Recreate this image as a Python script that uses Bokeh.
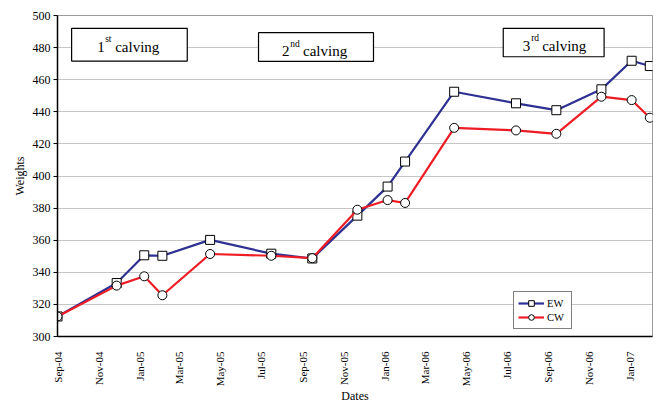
import math
import pandas as pd
from bokeh.plotting import figure
from bokeh.models import (Range1d, FixedTicker, DatetimeTickFormatter, BoxAnnotation,
                          Label, Legend, LegendItem, ColumnDataSource)
from bokeh.embed import file_html
from bokeh.resources import INLINE

# ---- data ----
dates = ["2004-09-01", "2004-11-28", "2005-01-08", "2005-02-04", "2005-04-16",
         "2005-07-16", "2005-09-15", "2005-11-21", "2006-01-05", "2006-01-31",
         "2006-04-14", "2006-07-15", "2006-09-13", "2006-11-19", "2007-01-03",
         "2007-01-30"]
ew = [312.5, 333.3, 350.6, 350.3, 360.2, 351.6, 348.6, 375.3, 393.4, 409.0,
      452.5, 445.3, 441.0, 454.0, 471.8, 468.5]
cw = [312.5, 331.7, 337.5, 325.7, 351.4, 350.3, 348.8, 379.0, 385.0, 383.2,
      430.0, 428.4, 426.3, 449.4, 447.3, 436.3]

tick_dates = ["2004-09-01", "2004-11-01", "2005-01-01", "2005-03-01", "2005-05-01",
              "2005-07-01", "2005-09-01", "2005-11-01", "2006-01-01", "2006-03-01",
              "2006-05-01", "2006-07-01", "2006-09-01", "2006-11-01", "2007-01-01"]
y_ticks = [300, 320, 340, 360, 380, 400, 420, 440, 460, 480, 500]

# calving annotation boxes: (left date, right date, bottom, top)
box_left = ["2004-09-22", "2005-06-27", "2006-06-26"]
box_right = ["2005-03-13", "2005-12-15", "2006-11-23"]
box_bottom = [471.6, 471.4, 474.3]
box_top = [492.0, 489.3, 492.0]
# calving texts
num_text = ["1", "2", "3"]
sup_text = ["st", "nd", "rd"]
text_x = ["2004-10-30", "2005-08-01", "2006-07-25"]
text_y = [480.6, 478.0, 481.0]
sup_y = [485.2, 482.3, 485.7]
sup_dx = [8, 8.3, 8.4]
word_dx = [18, 21, 19.4]

# ---- build ----
FONT = "'Liberation Serif', 'Times New Roman', serif"
x = pd.to_datetime(dates)
src = ColumnDataSource(dict(x=x, ew=ew, cw=cw))

ticks_ms = [int(t.value // 10**6) for t in pd.to_datetime(tick_dates)]

p = figure(width=656, height=406, x_axis_type="datetime",
           output_backend="svg", toolbar_location=None,
           x_range=Range1d(x[0], x[-1] + pd.Timedelta(days=4)),
           y_range=Range1d(y_ticks[0], y_ticks[-1]),
           min_border_left=57, min_border_top=15, min_border_right=4, min_border_bottom=67)
p.background_fill_color = "white"
p.border_fill_color = "white"
p.outline_line_color = "#9a9a9a"
p.outline_line_width = 1

p.xgrid.grid_line_color = None
p.ygrid.grid_line_color = "#8c8c8c"
p.ygrid.grid_line_dash = "1 1"
p.ygrid.grid_line_width = 1

# axes
p.yaxis.ticker = FixedTicker(ticks=y_ticks)
p.xaxis.ticker = FixedTicker(ticks=ticks_ms)
fmt = "%b-%y"
p.xaxis.formatter = DatetimeTickFormatter(years=fmt, months=fmt, days=fmt, hours=fmt,
                                          hourmin=fmt, minutes=fmt, minsec=fmt,
                                          seconds=fmt, milliseconds=fmt,
                                          microseconds=fmt)
p.xaxis.major_label_orientation = math.pi / 2
for ax in (p.xaxis, p.yaxis):
    ax.axis_line_color = "black"
    ax.axis_line_width = 1.5
    ax.major_label_text_font = FONT
    ax.major_label_text_color = "black"
    ax.axis_label_text_font = FONT
    ax.axis_label_text_font_style = "normal"
    ax.axis_label_text_font_size = "12px"
    ax.axis_label_text_color = "black"
    ax.minor_tick_line_color = None
p.xaxis.major_label_text_font_size = "11px"
p.yaxis.major_label_text_font_size = "12px"
p.xaxis.major_tick_line_color = None
p.xaxis.major_label_standoff = 9
p.yaxis.major_tick_line_color = "black"
p.yaxis.major_tick_out = 4
p.yaxis.major_tick_in = 0
p.yaxis.major_label_standoff = 3
p.xaxis.axis_label = "Dates"
p.yaxis.axis_label = "Weights"
p.xaxis.axis_label_standoff = 0
p.yaxis.axis_label_standoff = 3

# series
BLUE = "#2E3192"
RED = "#EE1C25"
l1 = p.line("x", "ew", source=src, line_color=BLUE, line_width=2.2)
s1 = p.scatter("x", "ew", source=src, marker="square", size=9,
               fill_color="white", line_color="black", line_width=1)
l2 = p.line("x", "cw", source=src, line_color=RED, line_width=2.2)
s2 = p.scatter("x", "cw", source=src, marker="circle", size=9,
               fill_color="white", line_color="black", line_width=1)

# calving boxes and texts
for i in range(3):
    p.add_layout(BoxAnnotation(left=pd.Timestamp(box_left[i]), right=pd.Timestamp(box_right[i]),
                               bottom=box_bottom[i], top=box_top[i],
                               fill_color="white", fill_alpha=1,
                               line_color="black", line_width=1.2, line_alpha=1))
    tx = pd.Timestamp(text_x[i])
    p.add_layout(Label(x=tx, y=text_y[i], text=num_text[i], text_font=FONT,
                       text_font_size="15px", text_color="black",
                       text_baseline="alphabetic", text_align="left"))
    p.add_layout(Label(x=tx, y=sup_y[i], x_offset=sup_dx[i], text=sup_text[i],
                       text_font=FONT, text_font_size="9.5px", text_color="black",
                       text_baseline="alphabetic", text_align="left"))
    p.add_layout(Label(x=tx, y=text_y[i], x_offset=word_dx[i], text="calving",
                       text_font=FONT, text_font_size="15px", text_color="black",
                       text_baseline="alphabetic", text_align="left"))

legend = Legend(items=[LegendItem(label="EW", renderers=[l1, s1]),
                       LegendItem(label="CW", renderers=[l2, s2])],
                location=(456, 7))
legend.label_text_font = FONT
legend.label_text_font_size = "10.5px"
legend.label_text_color = "black"
legend.glyph_width = 26
legend.glyph_height = 14
legend.label_height = 14
legend.label_standoff = 3
legend.spacing = 0
legend.padding = 4
legend.margin = 0
legend.border_line_color = "black"
legend.border_line_width = 1.5
legend.background_fill_color = "white"
legend.background_fill_alpha = 1
p.add_layout(legend)

open("out.html", "w").write(file_html(p, INLINE))
